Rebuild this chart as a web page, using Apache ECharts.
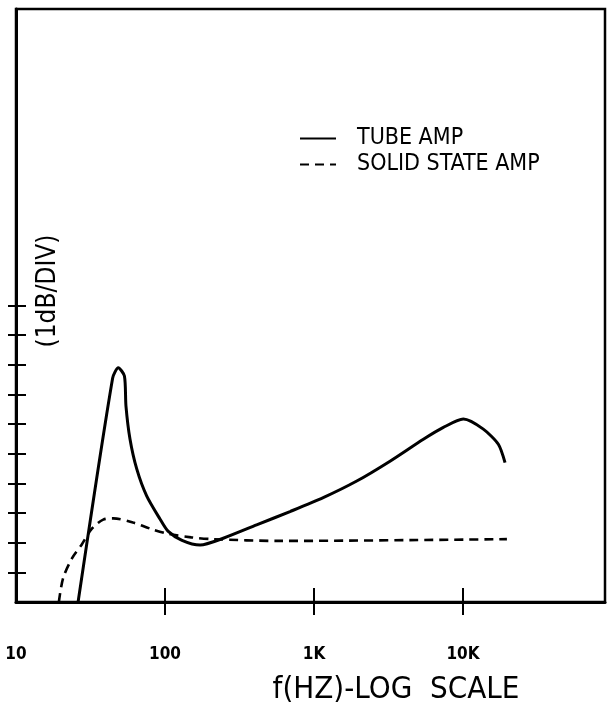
<!DOCTYPE html>
<html>
<head>
<meta charset="utf-8">
<script src="https://cdn.jsdelivr.net/npm/echarts@6/dist/echarts.min.js"></script>
<style>
  html, body { margin: 0; padding: 0; background: #fff; }
  #chart { width: 610px; height: 704px; }
</style>
</head>
<body>
<div id="chart"></div>
<script>
// frequency response, 1 dB per division, log frequency
var tubeFreq = [26.1, 44.5, 48.6, 53.4, 54.7, 58.2, 64.6, 75.3, 92.5, 104.7, 130, 172, 246, 412, 690, 1153, 1936, 3236, 5420, 7380, 10050, 13680, 17260, 19140];
var tubeDb   = [0, 7.55, 7.9, 7.62, 6.61, 5.5, 4.49, 3.58, 2.8, 2.39, 2.08, 1.92, 2.15, 2.6, 3.05, 3.52, 4.08, 4.75, 5.49, 5.89, 6.17, 5.83, 5.32, 4.7];

var solidFreq = [19.4, 20.7, 23.8, 27.7, 32.4, 38.5, 45, 61, 80, 105, 150, 210, 590, 19700];
var solidDb   = [0, 0.8, 1.48, 1.95, 2.48, 2.78, 2.82, 2.68, 2.47, 2.3, 2.18, 2.12, 2.06, 2.12];

var xLabelValues = [10, 100, 1000, 10000];
var xTickValues = [100, 1000, 10000];
var yTickValues = [1, 2, 3, 4, 5, 6, 7, 8, 9, 10];

var fontName = "'DejaVu Sans Condensed', 'Liberation Sans Narrow', 'DejaVu Sans', sans-serif";

function pairs(xs, ys) {
    var out = [];
    for (var i = 0; i < xs.length; i++) out.push([xs[i], ys[i]]);
    return out;
}

function freqLabel(v) {
    if (v >= 1000) return (v / 1000) + 'K';
    return '' + v;
}

var myChart = echarts.init(document.getElementById('chart'), null, {renderer: 'canvas'});

var xBase = {
    type: 'log', logBase: 10, min: 10, max: 89700,
    position: 'bottom',
    splitLine: {show: false}
};
var yBase = {
    type: 'value', min: 0, max: 20,
    position: 'left',
    splitLine: {show: false},
    axisLabel: {show: false}
};

var option = {
    animation: false,
    backgroundColor: '#fff',
    grid: {
        left: 16, right: 5, top: 9, bottom: 102,
        show: true, borderColor: '#000', borderWidth: 2.5,
        containLabel: false
    },
    legend: {
        orient: 'vertical',
        left: 294, top: 122,
        itemWidth: 36, itemHeight: 18, itemGap: 3,
        itemStyle: {opacity: 0},
        data: ['TUBE AMP', 'SOLID STATE AMP'],
        textStyle: {color: '#000', fontSize: 23, lineHeight: 22, fontFamily: fontName, padding: [0, 0, 0, 16]}
    },
    xAxis: [
        echarts.util.merge({
            axisLine: {lineStyle: {color: '#000', width: 3}},
            axisTick: {show: true, customValues: xTickValues, length: 13, lineStyle: {color: '#000', width: 2}},
            axisLabel: {
                customValues: xLabelValues, margin: 44,
                color: '#000', fontSize: 17, fontWeight: 'bold', fontFamily: fontName,
                formatter: freqLabel
            }
        }, xBase, true),
        echarts.util.merge({
            axisLine: {show: false},
            axisTick: {show: true, inside: true, customValues: xTickValues, length: 14, lineStyle: {color: '#000', width: 2}},
            axisLabel: {show: false}
        }, xBase, true)
    ],
    yAxis: [
        echarts.util.merge({
            axisLine: {show: true, lineStyle: {color: '#000', width: 3}},
            axisTick: {show: true, customValues: yTickValues, length: 8, lineStyle: {color: '#000', width: 2}}
        }, yBase, true),
        echarts.util.merge({
            axisLine: {show: false},
            axisTick: {show: true, inside: true, customValues: yTickValues, length: 10, lineStyle: {color: '#000', width: 2}}
        }, yBase, true)
    ],
    graphic: [
        {
            type: 'text', x: 48, y: 291, rotation: Math.PI / 2,
            style: {text: '(1dB/DIV)', fill: '#000', font: '26px ' + fontName, textAlign: 'center', textVerticalAlign: 'middle'}
        },
        {
            type: 'text', x: 396, y: 690,
            style: {text: 'f(HZ)-LOG  SCALE', fill: '#000', font: '31px ' + fontName, textAlign: 'center', textVerticalAlign: 'middle'}
        }
    ],
    series: [
        {
            name: 'TUBE AMP', type: 'line',
            data: pairs(tubeFreq, tubeDb),
            symbol: 'none', smooth: 0.25,
            itemStyle: {color: '#000'},
            lineStyle: {color: '#000', width: 3}
        },
        {
            name: 'SOLID STATE AMP', type: 'line',
            data: pairs(solidFreq, solidDb),
            symbol: 'none', smooth: 0.3,
            itemStyle: {color: '#000'},
            lineStyle: {color: '#000', width: 2.6, type: [9, 6]}
        }
    ]
};

myChart.setOption(option);
</script>
</body>
</html>
